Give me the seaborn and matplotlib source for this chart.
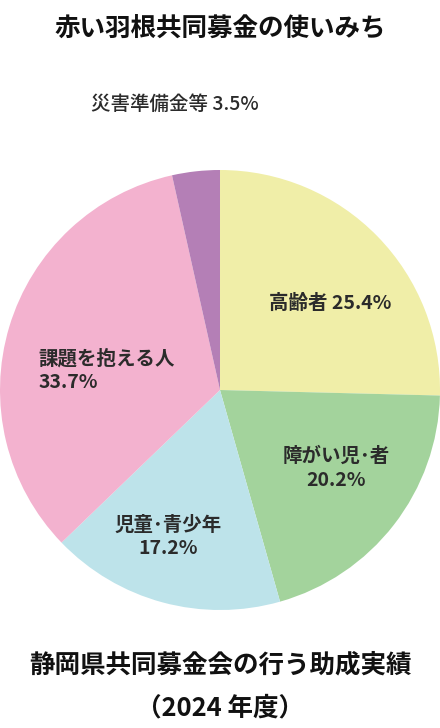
import matplotlib
matplotlib.use('Agg')
import matplotlib.pyplot as plt
import seaborn as sns

# data
labels = ['高齢者', '障がい児･者', '児童･青少年', '課題を抱える人', '災害準備金等']
shares = [25.4, 20.2, 17.2, 33.7, 3.5]
colors = ['#f0eea8', '#a3d39c', '#bde3ea', '#f3b2cf', '#b47fb6']

sns.set_theme(style='white')
plt.rcParams['font.family'] = ['Noto Sans CJK JP', 'DejaVu Sans']

fig = plt.figure(figsize=(4.4, 7.28), dpi=100)
ax = fig.add_axes([0.0, (728 - 610) / 728, 1.0, 440 / 728])

pal = sns.color_palette(colors)
ax.pie(shares, colors=pal, startangle=90, counterclock=False, radius=1,
       wedgeprops=dict(linewidth=0))
ax.set_xlim(-1, 1)
ax.set_ylim(-1, 1)
ax.set_aspect('equal')
ax.axis('off')

txt = dict(fontsize=14, color='#2b2b2b', fontweight='bold', linespacing=1.3)
ax.text(0.50, 0.395, f'{labels[0]} {shares[0]}%', ha='center', va='center', **txt)
ax.text(0.527, -0.355, f'{labels[1]}\n{shares[1]}%', ha='center', va='center', **txt)
ax.text(-0.236, -0.668, f'{labels[2]}\n{shares[2]}%', ha='center', va='center', **txt)
ax.text(-0.827, 0.09, f'{labels[3]}\n{shares[3]}%', ha='left', va='center', **txt)
ax.text(-0.205, 1.30, f'{labels[4]} {shares[4]}%', ha='center', va='center',
        **{**txt, 'fontweight': 'medium'})

title_kw = dict(ha='center', va='center', fontsize=18.4, fontweight='bold', color='#111111')
fig.text(0.5, 1 - 28 / 728, '赤い羽根共同募金の使いみち', **title_kw)
fig.text(0.5, 1 - 665 / 728, '静岡県共同募金会の行う助成実績', **title_kw)
fig.text(0.5, 1 - 708 / 728, '（2024 年度）', **title_kw)

fig.savefig('out.png', dpi=100, facecolor='white')
